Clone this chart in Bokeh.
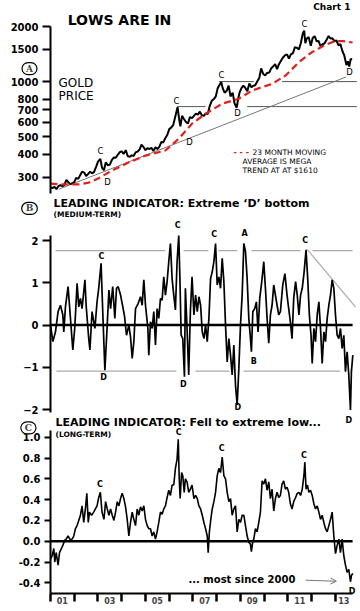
from bokeh.plotting import figure
from bokeh.layouts import column
from bokeh.models import Range1d, FixedTicker, Label, Arrow, OpenHead, NumeralTickFormatter
from bokeh.embed import file_html
from bokeh.resources import INLINE

# ---------------- data ----------------
gold_t = [
    2001.00, 2001.08, 2001.17, 2001.25, 2001.33, 2001.42, 2001.50, 2001.58, 2001.67, 2001.75, 2001.83, 2001.92,
    2002.00, 2002.08, 2002.17, 2002.25, 2002.33, 2002.42, 2002.50, 2002.58, 2002.67, 2002.75, 2002.83, 2002.92,
    2003.00, 2003.10, 2003.17, 2003.25, 2003.33, 2003.42, 2003.50, 2003.58, 2003.67, 2003.75, 2003.83, 2003.92,
    2004.00, 2004.08, 2004.17, 2004.25, 2004.33, 2004.42, 2004.50, 2004.58, 2004.67, 2004.75, 2004.83, 2004.92,
    2005.00, 2005.08, 2005.17, 2005.25, 2005.33, 2005.42, 2005.50, 2005.58, 2005.67, 2005.75, 2005.83, 2005.92,
    2006.00, 2006.08, 2006.17, 2006.25, 2006.35, 2006.42, 2006.47, 2006.54, 2006.62, 2006.71, 2006.79, 2006.87, 2006.96,
    2007.04, 2007.12, 2007.21, 2007.29, 2007.37, 2007.46, 2007.54, 2007.62, 2007.71, 2007.79, 2007.87, 2007.96,
    2008.04, 2008.12, 2008.19, 2008.25, 2008.33, 2008.42, 2008.50, 2008.58, 2008.67, 2008.75, 2008.84, 2008.90, 2008.96,
    2009.04, 2009.12, 2009.21, 2009.29, 2009.37, 2009.46, 2009.54, 2009.62, 2009.71, 2009.79, 2009.87, 2009.96,
    2010.04, 2010.12, 2010.21, 2010.29, 2010.37, 2010.46, 2010.54, 2010.62, 2010.71, 2010.79, 2010.87, 2010.96,
    2011.04, 2011.12, 2011.21, 2011.29, 2011.37, 2011.46, 2011.54, 2011.62, 2011.68, 2011.73, 2011.79, 2011.87, 2011.96,
    2012.04, 2012.12, 2012.21, 2012.29, 2012.37, 2012.46, 2012.54, 2012.62, 2012.71, 2012.79, 2012.87, 2012.96,
    2013.04, 2013.12, 2013.21, 2013.29, 2013.37, 2013.46, 2013.52, 2013.58, 2013.64, 2013.70]
gold_price = [
    265, 262, 266, 258, 268, 272, 268, 272, 290, 282, 275, 278,
    282, 298, 294, 308, 322, 318, 305, 312, 322, 315, 320, 342,
    365, 378, 338, 328, 362, 348, 352, 372, 385, 383, 398, 412,
    415, 402, 422, 392, 388, 395, 392, 410, 415, 425, 452, 438,
    422, 432, 428, 435, 418, 437, 428, 440, 468, 465, 490, 512,
    550, 560, 580, 640, 725, 620, 570, 650, 625, 600, 590, 640, 632,
    650, 668, 660, 685, 655, 650, 670, 665, 740, 785, 800, 830,
    920, 960, 995, 920, 870, 890, 950, 830, 870, 760, 720, 800, 870,
    920, 950, 920, 885, 975, 930, 950, 955, 1005, 1045, 1180, 1100,
    1080, 1115, 1120, 1180, 1210, 1245, 1170, 1245, 1305, 1355, 1390, 1410,
    1335, 1410, 1430, 1540, 1530, 1500, 1620, 1830, 1900, 1620, 1720, 1750, 1570,
    1730, 1770, 1660, 1665, 1560, 1600, 1620, 1690, 1775, 1720, 1725, 1665,
    1680, 1580, 1600, 1470, 1390, 1230, 1290, 1210, 1330, 1320]

ma_t = [2001.0, 2001.5, 2002.2, 2002.6, 2003.0, 2003.6, 2004.3, 2005.0, 2005.84, 2006.4, 2006.96,
        2007.53, 2008.23, 2008.93, 2009.49, 2010.33, 2010.9, 2011.45, 2012.0, 2012.58, 2012.95,
        2013.3, 2013.72]
ma_price = [277, 274, 274, 280, 295, 327, 362, 394, 420, 487, 589,
            667, 757, 806, 894, 972, 1079, 1274, 1446, 1590, 1660,
            1665, 1635]

trend_t = [2001.35, 2013.45]
trend_price = [258, 1060]

level_t0 = [2008.09, 2010.75, 2006.33, 2009.28]
level_t1 = [2009.56, 2013.90, 2007.53, 2013.90]
level_price = [1000, 1000, 730, 730]

gold_ticks = [300, 400, 500, 600, 700, 800, 1000, 1500, 2000]

med_t = [
    2001.00, 2001.10, 2001.21, 2001.32, 2001.42, 2001.52, 2001.56, 2001.63, 2001.74, 2001.81, 2001.94,
    2002.02, 2002.12, 2002.19, 2002.26, 2002.33, 2002.45, 2002.50, 2002.61, 2002.66, 2002.75, 2002.87, 2002.96,
    2003.03, 2003.13, 2003.20, 2003.29, 2003.36, 2003.46, 2003.53, 2003.62, 2003.71, 2003.78, 2003.85, 2003.95,
    2004.06, 2004.12, 2004.20, 2004.30, 2004.37, 2004.44, 2004.51, 2004.58, 2004.69, 2004.79, 2004.86, 2004.93,
    2005.00, 2005.10, 2005.14, 2005.21, 2005.28, 2005.35, 2005.42, 2005.49, 2005.56, 2005.63, 2005.70, 2005.77,
    2005.84, 2005.91, 2005.98, 2006.05, 2006.12, 2006.19, 2006.26, 2006.33, 2006.40, 2006.45, 2006.50, 2006.57,
    2006.64, 2006.68, 2006.75, 2006.82, 2006.89, 2006.96, 2007.04, 2007.11, 2007.18, 2007.25, 2007.32, 2007.39,
    2007.46, 2007.53, 2007.60, 2007.67, 2007.74, 2007.81, 2007.88, 2007.95, 2008.02, 2008.09, 2008.16, 2008.23,
    2008.30, 2008.37, 2008.44, 2008.51, 2008.58, 2008.65, 2008.72, 2008.79, 2008.86, 2008.93, 2009.00, 2009.07,
    2009.14, 2009.21, 2009.28, 2009.35, 2009.42, 2009.46, 2009.52, 2009.60, 2009.67, 2009.74, 2009.81, 2009.91,
    2009.98, 2010.05, 2010.12, 2010.19, 2010.26, 2010.33, 2010.40, 2010.47, 2010.54, 2010.61, 2010.68, 2010.78,
    2010.87, 2010.96, 2011.03, 2011.10, 2011.17, 2011.24, 2011.32, 2011.39, 2011.46, 2011.53, 2011.60, 2011.68,
    2011.76, 2011.83, 2011.90, 2011.97, 2012.02, 2012.09, 2012.16, 2012.23, 2012.30, 2012.37, 2012.44, 2012.51,
    2012.58, 2012.65, 2012.72, 2012.79, 2012.86, 2012.93, 2013.00, 2013.07, 2013.14, 2013.21, 2013.28, 2013.35,
    2013.42, 2013.49, 2013.56, 2013.63, 2013.67, 2013.73]
med_v = [
    0.00, -0.39, -0.16, 0.32, 0.47, 0.24, -0.16, 0.43, 0.91, 0.39, -0.59,
    -0.08, 0.99, 0.43, 0.63, 0.39, 1.07, 0.47, -0.32, -0.59, 0.32, -0.08, 0.55,
    0.87, 1.46, 0.32, -1.07, -0.32, 0.83, 0.39, 0.91, 0.16, 0.87, 0.91, 0.71,
    0.39, 0.20, -0.24, 0.00, -0.28, -0.79, -0.39, 0.39, 0.51, 0.67, 0.47, 1.07,
    0.47, -0.08, -0.71, 0.08, -0.08, 0.32, -0.47, 0.39, 0.16, 0.63, 0.59, 1.14,
    0.71, 1.03, 1.50, 1.93, 1.10, 0.71, 0.36, 1.50, 2.12, 1.10, -0.24, -0.32,
    -1.22, 0.87, -0.08, -1.18, 0.32, 1.14, 0.24, 0.71, 0.32, 0.67, 0.47, -0.16,
    -0.32, 0.00, -0.39, 0.16, 1.10, 1.26, 1.50, 1.93, 0.95, 1.14, 0.87, 1.58,
    1.03, 0.00, -0.87, -0.32, -0.71, -1.18, -0.47, -1.42, -1.89, -1.03, 0.00, 0.71,
    1.93, 1.74, 1.10, 0.16, -0.32, -0.63, 0.32, 0.39, 0.55, -0.16, 0.63, 1.10,
    1.50, 0.87, 0.16, -0.43, 0.24, 0.47, 0.95, 0.71, 0.47, 0.24, 0.32, 0.95,
    1.22, 0.71, 0.39, 0.08, -0.32, 0.63, 1.03, 0.71, 0.24, 0.71, 0.87, 1.26,
    1.78, 1.10, 0.24, -0.24, -0.91, -0.08, -0.39, 0.24, 0.55, -0.08, -0.91, -0.16,
    -0.39, 0.16, 0.47, 0.71, 1.07, 0.87, 0.24, -0.24, -0.32, -0.08, -0.55, -0.24,
    -1.10, -0.63, -1.18, -2.01, -1.10, -0.71]

med_hi_t0 = [2001.21, 2006.60, 2008.07, 2009.46, 2012.03]
med_hi_t1 = [2005.84, 2007.65, 2008.87, 2011.53, 2013.72]
med_lo_t0 = [2001.25, 2007.10, 2009.13]
med_lo_t1 = [2006.30, 2008.54, 2013.20]
med_hi_level = 1.76
med_lo_level = -1.09
med_diag_t = [2011.81, 2013.84]
med_diag_v = [1.79, 0.43]
med_ticks = [-2, -1, 0, 1, 2]

long_t = [
    2001.00, 2001.07, 2001.14, 2001.18, 2001.24, 2001.32, 2001.38, 2001.46, 2001.52, 2001.60, 2001.66, 2001.74,
    2001.84, 2001.91, 2001.98, 2002.05, 2002.12, 2002.19, 2002.26, 2002.33, 2002.40, 2002.47, 2002.53, 2002.59,
    2002.64, 2002.73, 2002.82, 2002.89, 2002.96, 2003.03, 2003.10, 2003.17, 2003.25, 2003.32, 2003.39, 2003.46,
    2003.53, 2003.60, 2003.67, 2003.74, 2003.81, 2003.88, 2003.95, 2004.02, 2004.09, 2004.16, 2004.23, 2004.30,
    2004.37, 2004.44, 2004.51, 2004.58, 2004.65, 2004.72, 2004.79, 2004.86, 2004.93, 2005.00, 2005.07, 2005.14,
    2005.21, 2005.28, 2005.35, 2005.42, 2005.49, 2005.56, 2005.63, 2005.70, 2005.77, 2005.84, 2005.91, 2005.98,
    2006.05, 2006.12, 2006.19, 2006.26, 2006.33, 2006.38, 2006.42, 2006.46, 2006.52, 2006.57, 2006.63, 2006.68,
    2006.75, 2006.82, 2006.89, 2006.96, 2007.04, 2007.11, 2007.18, 2007.25, 2007.32, 2007.39, 2007.46, 2007.53,
    2007.60, 2007.64, 2007.69, 2007.75, 2007.81, 2007.88, 2007.95, 2008.02, 2008.09, 2008.16, 2008.23, 2008.30,
    2008.37, 2008.44, 2008.51, 2008.58, 2008.65, 2008.72, 2008.79, 2008.86, 2008.93, 2009.00, 2009.07, 2009.14,
    2009.21, 2009.28, 2009.35, 2009.42, 2009.46, 2009.52, 2009.56, 2009.63, 2009.70, 2009.77, 2009.84, 2009.91,
    2009.98, 2010.05, 2010.12, 2010.19, 2010.26, 2010.33, 2010.40, 2010.47, 2010.54, 2010.61, 2010.68, 2010.75,
    2010.82, 2010.89, 2010.96, 2011.03, 2011.10, 2011.17, 2011.24, 2011.32, 2011.39, 2011.46, 2011.53, 2011.60,
    2011.67, 2011.71, 2011.76, 2011.82, 2011.88, 2011.95, 2012.02, 2012.09, 2012.16, 2012.23, 2012.30, 2012.37,
    2012.44, 2012.51, 2012.58, 2012.65, 2012.72, 2012.79, 2012.86, 2012.93, 2013.00, 2013.07, 2013.14, 2013.21,
    2013.28, 2013.35, 2013.42, 2013.49, 2013.56, 2013.63, 2013.67, 2013.73]
long_v = [
    -0.17, -0.14, -0.07, -0.20, -0.11, -0.23, -0.11, -0.07, -0.04, 0.01, 0.02, 0.05,
    0.01, 0.02, 0.05, 0.12, 0.15, 0.20, 0.25, 0.34, 0.18, 0.31, 0.46, 0.18,
    0.28, 0.25, 0.28, 0.31, 0.34, 0.42, 0.47, 0.28, 0.21, 0.38, 0.31, 0.25,
    0.31, 0.25, 0.20, 0.28, 0.38, 0.34, 0.41, 0.46, 0.41, 0.33, 0.21, 0.05,
    0.18, 0.28, 0.21, 0.15, 0.31, 0.25, 0.33, 0.29, 0.34, 0.21, 0.15, 0.12,
    0.12, 0.05, 0.09, 0.02, 0.09, 0.18, 0.28, 0.26, 0.31, 0.34, 0.42, 0.49,
    0.44, 0.54, 0.54, 0.70, 0.79, 0.98, 0.60, 0.41, 0.66, 0.63, 0.47, 0.60,
    0.57, 0.47, 0.50, 0.54, 0.41, 0.44, 0.41, 0.34, 0.31, 0.25, 0.18, 0.12,
    0.05, -0.11, 0.09, 0.21, 0.31, 0.38, 0.47, 0.63, 0.70, 0.66, 0.81, 0.63,
    0.60, 0.47, 0.38, 0.41, 0.25, 0.31, 0.34, 0.09, 0.21, 0.18, 0.25, 0.25,
    0.15, 0.05, -0.01, -0.03, -0.10, 0.00, 0.02, 0.12, 0.09, 0.18, 0.28, 0.58,
    0.55, 0.60, 0.49, 0.57, 0.41, 0.50, 0.29, 0.41, 0.47, 0.42, 0.44, 0.55,
    0.58, 0.50, 0.52, 0.47, 0.36, 0.31, 0.38, 0.42, 0.46, 0.47, 0.44, 0.50,
    0.63, 0.76, 0.50, 0.54, 0.47, 0.49, 0.44, 0.36, 0.31, 0.34, 0.28, 0.21,
    0.25, 0.18, 0.12, 0.09, 0.15, 0.21, 0.28, 0.05, -0.12, -0.04, 0.02, -0.11,
    0.02, -0.14, -0.23, -0.30, -0.27, -0.39, -0.33, -0.31]
long_ticks = [-0.4, -0.2, 0.0, 0.2, 0.4, 0.6, 0.8, 1.0]

year_ticks = [2001, 2002, 2003, 2004, 2005, 2006, 2007, 2008, 2009, 2010, 2011, 2012, 2013]
year_label_pos = [2001.5, 2003.5, 2005.5, 2007.5, 2009.5, 2011.5, 2013.35]
year_labels = ["01", "03", "05", "07", "09", "11", "13"]

time_span = [2001.0, 2013.72]     # extent of the time axis
zero_level = [0, 0]

# ---------------- styling helpers ----------------
FONT = "DejaVu Sans"
RED = "#e0201b"
xr = Range1d(1998.895, 2014.053)


def base_fig(height, y_range, log=False):
    kw = dict(width=360, height=height, x_range=xr, y_range=y_range,
              toolbar_location=None, output_backend="svg",
              min_border_left=0, min_border_right=0,
              min_border_top=0, min_border_bottom=0,
              background_fill_color="white", border_fill_color="white")
    if log:
        kw["y_axis_type"] = "log"
    p = figure(**kw)
    p.outline_line_color = None
    p.grid.grid_line_color = None
    p.xaxis.visible = False
    return p


def style_y(p, ticks, bounds, tick_out=8):
    ax = p.yaxis[0]
    ax.fixed_location = time_span[0]
    ax.bounds = bounds
    ax.ticker = FixedTicker(ticks=ticks)
    ax.axis_line_width = 2
    ax.axis_line_color = "black"
    ax.major_tick_out = tick_out
    ax.major_tick_in = 0
    ax.major_tick_line_width = 2
    ax.minor_tick_line_color = None
    ax.major_label_text_font = FONT
    ax.major_label_text_font_style = "bold"
    ax.major_label_text_font_size = "10px"
    ax.major_label_text_color = "black"
    ax.major_label_standoff = 4


def lab(p, x, y, text, size="8px", style="normal", align="center", color="black", baseline="middle", font=FONT):
    p.add_layout(Label(x=x, y=y, text=text, text_font=font, text_font_size=size,
                       text_font_style=style, text_align=align, text_baseline=baseline,
                       text_color=color))


def circled(p, x, y, letter):
    p.add_layout(Label(x=x, y=y, text=letter, text_font="DejaVu Serif", text_font_size="9px",
                       text_font_style="bold", text_align="center", text_baseline="middle",
                       border_line_color="black", border_line_width=1.2, border_radius=8,
                       padding=dict(x=4, y=1), background_fill_color="white"))


# ---------------- panel A: gold price ----------------
pA = base_fig(197, Range1d(232.5, 2775), log=True)
style_y(pA, gold_ticks, (245, 2000))
pA.yaxis[0].major_label_overrides = {t: str(t) for t in gold_ticks}

pA.segment(x0=level_t0, y0=level_price, x1=level_t1, y1=level_price, line_color="#555555", line_width=1)
pA.line(trend_t, trend_price, line_color="#777777", line_width=1)
pA.line(gold_t, gold_price, line_color="black", line_width=2)
pA.line(ma_t, ma_price, line_color=RED, line_width=2.2, line_dash="7 4")

for x, y, t in [(2003.10, 416, "C"), (2003.40, 281, "D"), (2006.30, 787, "C"), (2006.85, 470, "D"),
                (2008.20, 1080, "C"), (2008.87, 670, "D"), (2011.69, 2076, "C"), (2013.59, 1122, "D")]:
    lab(pA, x, y, t, size="8.5px")

lab(pA, 2003.905, 2184, "LOWS ARE IN", size="14px", style="bold")
lab(pA, 2013.63, 2571, "Chart 1", size="9px", style="bold", align="right")
lab(pA, 2001.34, 986, "GOLD", size="12px", align="left")
lab(pA, 2001.34, 831, "PRICE", size="12px", align="left")
circled(pA, 2000.116, 1178, "A")
lab(pA, 2008.705, 410, "- - -", size="8px", style="bold", align="left", color=RED)
lab(pA, 2009.505, 410, "23 MONTH MOVING", size="7.5px", align="left")
lab(pA, 2009.084, 366, "AVERAGE IS MEGA", size="7.5px", align="left")
lab(pA, 2009.084, 327, "TREND AT AT $1610", size="7.5px", align="left")

# ---------------- panel B: medium-term ----------------
pB = base_fig(218, Range1d(-2.139, 3.019))
style_y(pB, med_ticks, (-2.07, 2.12))
pB.segment(x0=med_hi_t0, y0=[med_hi_level] * len(med_hi_t0), x1=med_hi_t1,
           y1=[med_hi_level] * len(med_hi_t1), line_color="#aaaaaa", line_width=1.2)
pB.segment(x0=med_lo_t0, y0=[med_lo_level] * len(med_lo_t0), x1=med_lo_t1,
           y1=[med_lo_level] * len(med_lo_t1), line_color="#aaaaaa", line_width=1.2)
pB.line(med_diag_t, med_diag_v, line_color="#aaaaaa", line_width=1.2)
pB.line(time_span, zero_level, line_color="black", line_width=2.5)
pB.line(med_t, med_v, line_color="black", line_width=1.7)

for x, y, t in [(2003.15, 1.63, "C"), (2006.36, 2.35, "C"), (2007.89, 2.14, "C"), (2009.17, 2.16, "A"),
                (2011.72, 1.99, "C"), (2003.23, -1.25, "D"), (2006.59, -1.41, "D"), (2009.56, -0.85, "B"),
                (2008.89, -1.95, "D")]:
    lab(pB, x, y, t, size="8px", style="bold")

lab(pB, 2001.13, 2.88, "LEADING INDICATOR: Extreme \u2018D\u2019 bottom", size="11px", style="bold", align="left")
lab(pB, 2001.13, 2.61, "(MEDIUM-TERM)", size="7.5px", style="bold", align="left")
circled(pB, 2000.116, 2.76, "B")

# ---------------- panel C: long-term ----------------
pC = base_fig(195, Range1d(-0.6663, 1.2087))
style_y(pC, long_ticks, (-0.5, 1.06), tick_out=6)
pC.yaxis[0].formatter = NumeralTickFormatter(format="0.0")
xa = pC.xaxis[0]
xa.visible = True
xa.fixed_location = -0.5
xa.bounds = tuple(time_span)
xa.ticker = FixedTicker(ticks=year_label_pos, minor_ticks=year_ticks)
xa.major_label_overrides = dict(zip(year_label_pos, year_labels))
xa.axis_line_width = 2
xa.axis_line_color = "black"
xa.major_tick_line_color = None
xa.major_tick_out = 0
xa.major_tick_in = 0
xa.minor_tick_out = 8
xa.minor_tick_in = 0
xa.minor_tick_line_width = 2.5
xa.minor_tick_line_color = "black"
xa.major_label_standoff = -4
xa.major_label_text_font = FONT
xa.major_label_text_font_style = "bold"
xa.major_label_text_font_size = "8px"

pC.line(time_span, zero_level, line_color="black", line_width=2.5)
pC.line(long_t, long_v, line_color="black", line_width=1.6)

for x, y, t in [(2003.08, 0.55, "C"), (2006.40, 1.05, "C"), (2008.21, 0.89, "C"), (2011.67, 0.82, "C"),
                (2013.70, -0.48, "D"), (2013.56, 1.16, "D")]:
    lab(pC, x, y, t, size="8px", style="bold")

lab(pC, 2001.21, 1.14, "LEADING INDICATOR: Fell to extreme low...", size="11px", style="bold", align="left")
lab(pC, 2001.21, 1.026, "(LONG-TERM)", size="7.5px", style="bold", align="left")
circled(pC, 2000.07, 1.09, "C")
lab(pC, 2006.81, -0.368, "... most since 2000", size="10px", style="bold", align="left")
pC.add_layout(Arrow(end=OpenHead(size=6, line_color="#777777", line_width=1),
                    x_start=2011.74, y_start=-0.375, x_end=2013.04, y_end=-0.385,
                    line_color="#777777", line_width=1))

layout = column(pA, pB, pC, spacing=0)
open("out.html", "w").write(file_html(layout, INLINE))
